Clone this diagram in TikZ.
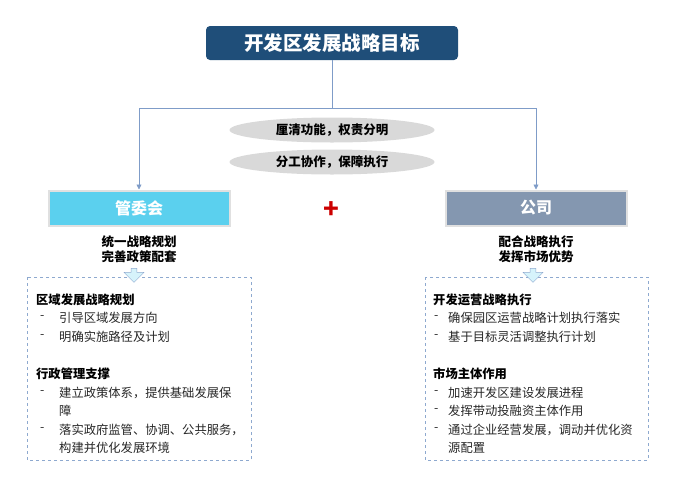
\documentclass[tikz,border=0pt]{standalone}
\usepackage{fontspec}
\setmainfont{Noto Sans CJK SC}
\usetikzlibrary{shapes.geometric,shapes.arrows,arrows.meta}
\definecolor{navy}{HTML}{1F4E79}
\definecolor{cyanb}{HTML}{5BD0EE}
\definecolor{grayb}{HTML}{8497B0}
\definecolor{lineb}{HTML}{7F9CC8}
\definecolor{dashb}{HTML}{8EA9CF}
\tikzset{
 txt/.style={anchor=west,font=\fontsize{12.3}{14}\selectfont,text=black!85,inner sep=0pt},
 hd/.style={anchor=west,font=\fontsize{12.3}{14}\selectfont\bfseries,inner sep=0pt},
 conn/.style={draw=lineb,line width=0.8pt},
 pill/.style={ellipse,fill=black!15,minimum width=205pt,minimum height=25pt,inner sep=0pt,font=\fontsize{12.5}{14}\selectfont\bfseries},
 role/.style={minimum width=181pt,minimum height=35pt,draw=black!12,line width=2pt,text=white,font=\fontsize{16}{18}\selectfont\bfseries},
 dbox/.style={draw=dashb,dashed,line width=1pt},
 barrow/.style={single arrow,shape border rotate=270,fill=cyanb!25,draw=dashb,minimum width=20pt,single arrow head extend=3pt,minimum height=14pt,inner sep=1pt}
}
\begin{document}
\begin{tikzpicture}[x=1pt,y=-1pt]
\useasboundingbox (0,0) rectangle (673,483);
\node[fill=navy,rounded corners=4pt,minimum width=252pt,minimum height=34pt,text=white,font=\fontsize{19.5}{21}\selectfont\bfseries] (goal) at (332,43) {开发区发展战略目标};
\node[pill] (p1) at (332,130) {厘清功能，权责分明};
\node[pill] (p2) at (332,162) {分工协作，保障执行};
\node[role,fill=cyanb] (gw) at (139,208) {管委会};
\node[role,fill=grayb] (gs) at (536,208) {公司};
\coordinate (j) at (332,108);
\draw[conn] (goal.south) -- (j);
\draw[conn,-{Triangle[length=5pt,width=5pt]}] (j) -| (gw.north);
\draw[conn,-{Triangle[length=5pt,width=5pt]}] (j) -| (gs.north);
\node[text=red!80!black,font=\fontsize{26}{26}\selectfont\bfseries] (plus) at (331,210) {+};
\node[font=\fontsize{12.5}{15.5}\selectfont\bfseries,align=center] (gwt) at (139,249) {统一战略规划\\完善政策配套};
\node[font=\fontsize{12.5}{15.5}\selectfont\bfseries,align=center] (gst) at (536,249) {配合战略执行\\发挥市场优势};
\draw[dbox] (27,277) rectangle (251,460);
\draw[dbox] (425,277) rectangle (648,460);
\node[barrow] (a1) at (134,274) {};
\node[barrow] (a2) at (533,274) {};
% left
\node[hd] (l1) at (36,300) {区域发展战略规划};
\node[txt] at (40,318) {-}; \node[txt] at (59,318) {引导区域发展方向};
\node[txt] at (40,337) {-}; \node[txt] at (59,337) {明确实施路径及计划};
\node[hd] (l2) at (36,374) {行政管理支撑};
\node[txt] at (40,393) {-}; \node[txt] at (59,393) {建立政策体系，提供基础发展保};
\node[txt] at (59,411) {障};
\node[txt] at (40,430) {-}; \node[txt] at (59,430) {落实政府监管、协调、公共服务，};
\node[txt] at (59,448) {构建并优化发展环境};
% right
\node[hd] (r1) at (433,300) {开发运营战略执行};
\node[txt] at (434,318) {-}; \node[txt] at (448,318) {确保园区运营战略计划执行落实};
\node[txt] at (434,337) {-}; \node[txt] at (448,337) {基于目标灵活调整执行计划};
\node[hd] (r2) at (433,374) {市场主体作用};
\node[txt] at (434,393) {-}; \node[txt] at (448,393) {加速开发区建设发展进程};
\node[txt] at (434,411) {-}; \node[txt] at (448,411) {发挥带动投融资主体作用};
\node[txt] at (434,430) {-}; \node[txt] at (448,430) {通过企业经营发展，调动并优化资};
\node[txt] at (448,448) {源配置};
\end{tikzpicture}
\end{document}
